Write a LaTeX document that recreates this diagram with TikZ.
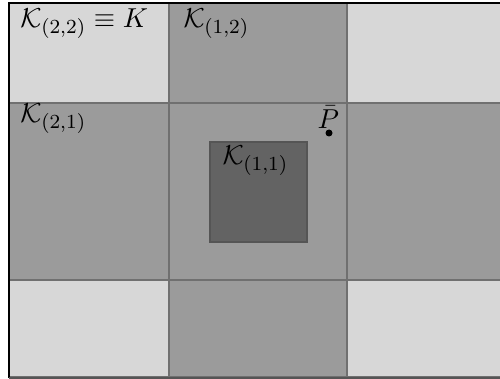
\documentclass[tikz,border=0pt]{standalone}
\definecolor{lightc}{HTML}{D7D7D7}
\definecolor{midc}{HTML}{9B9B9B}
\definecolor{darkc}{HTML}{636363}
\definecolor{linec}{HTML}{707070}
\definecolor{bottomc}{HTML}{555555}
\begin{document}
\begin{tikzpicture}[x=0.4pt,y=-0.4pt,
  cell/.style={draw=linec, line width=0.55pt},
  lab/.style={anchor=base west, inner sep=0pt, font=\fontsize{11}{13}\selectfont}]
\useasboundingbox (0,0) rectangle (500,379);
\clip (0,0) rectangle (500,379);
\fill[white] (0,0) rectangle (500,379);
% row 1
\filldraw[cell, fill=lightc] (9,3) rectangle (169,103);
\filldraw[cell, fill=midc] (169,3) rectangle (347,103);
\filldraw[cell, fill=lightc] (347,3) rectangle (510,103);
% row 2
\filldraw[cell, fill=midc] (9,103) rectangle (169,280);
\filldraw[cell, fill=midc] (169,103) rectangle (347,280);
\filldraw[cell, fill=midc] (347,103) rectangle (510,280);
% row 3
\filldraw[cell, fill=lightc] (9,280) rectangle (169,377);
\filldraw[cell, fill=midc] (169,280) rectangle (347,377);
\filldraw[cell, fill=lightc] (347,280) rectangle (510,377);
% inner box
\filldraw[draw=bottomc, line width=0.55pt, fill=darkc] (210,142) rectangle (307,242);
% outer border
\draw[black, line width=0.8pt] (9,378) -- (9,3) -- (510,3);
\draw[bottomc, line width=0.8pt] (9,378) -- (510,378);
% labels
\node[lab] (k22) at (20,28) {$\mathcal{K}_{(2,2)} \equiv K$};
\node[lab] (k12) at (183,28) {$\mathcal{K}_{(1,2)}$};
\node[lab] (k21) at (20,123) {$\mathcal{K}_{(2,1)}$};
\node[lab] (k11) at (222,165) {$\mathcal{K}_{(1,1)}$};
\node[lab] (p) at (317,128) {$\bar{P}$};
\node[circle, fill=black, inner sep=0pt, minimum size=2.8pt] (dot) at (329,133) {};
\end{tikzpicture}
\end{document}
